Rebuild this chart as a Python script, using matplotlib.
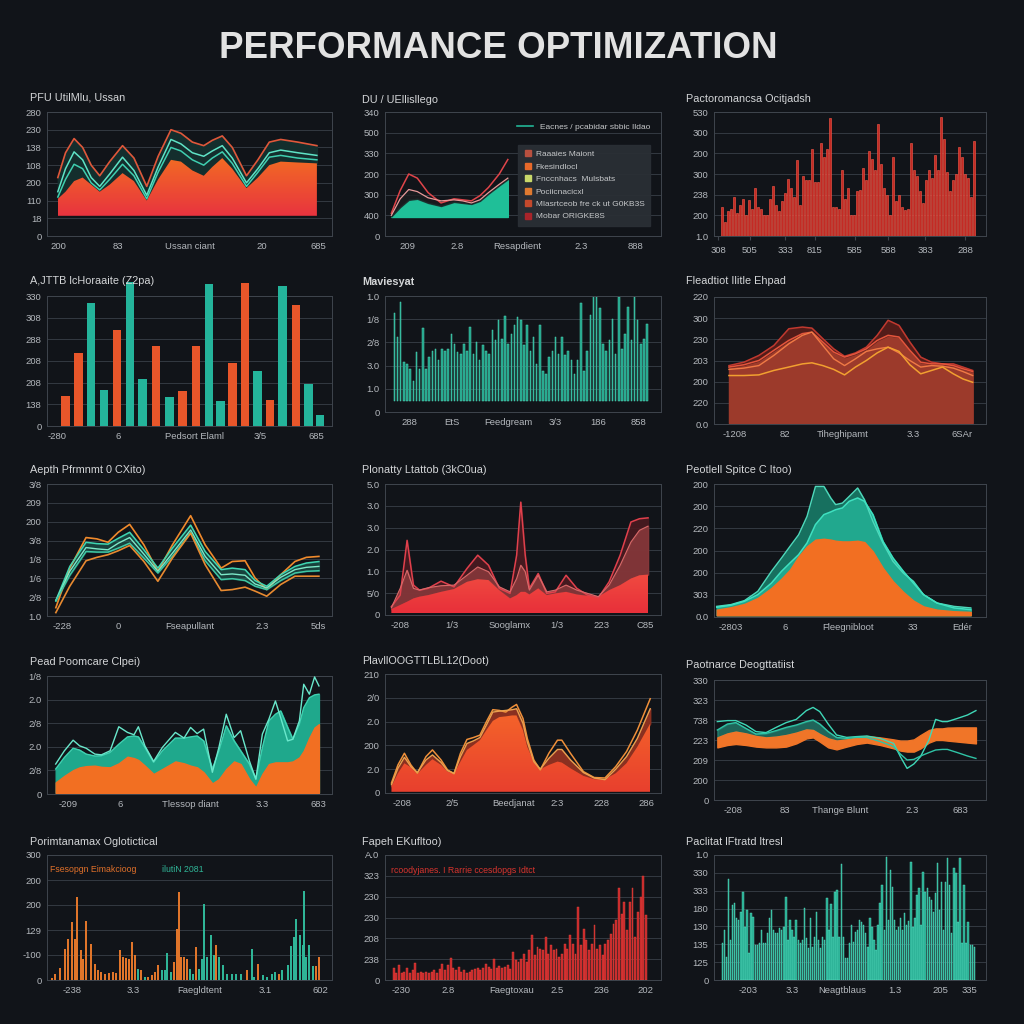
import numpy as np
import matplotlib
matplotlib.use('Agg')
import matplotlib.pyplot as plt
from matplotlib.colors import LinearSegmentedColormap
from matplotlib.lines import Line2D

plt.rcParams['font.family'] = ['Liberation Sans', 'DejaVu Sans']

# --- colores ---
BG = '#111419'
GRID = '#343a42'
SPINE = '#3f454d'
TXT = '#b4b8bd'
TEAL = '#22b596'
TEAL_L = '#5fe3c6'
ORANGE = '#f06c26'
RED = '#e0392f'

W = H = 1024

# ---------------- datos ----------------
# Fila 1, col 1 (áreas onduladas)
p11_x = [3.8, 6.5, 9.5, 12.5, 15.5, 18.5, 22, 26.5, 30.5, 35, 39, 43.5, 47, 51, 55, 58, 61.5, 65, 70, 74, 78, 82, 88, 94.7]
p11_orange = [2.1, 2.5, 3.1, 3.3, 2.9, 2.5, 2.9, 3.55, 3.1, 2.0, 3.2, 4.3, 4.2, 3.7, 3.4, 3.9, 4.4, 3.8, 2.7, 3.3, 4.0, 4.2, 4.15, 4.1]
p11_red = [3.3, 4.7, 5.5, 5.0, 4.0, 3.4, 4.2, 5.1, 4.4, 2.8, 4.5, 6.0, 5.8, 5.3, 5.1, 5.4, 5.65, 5.0, 3.4, 4.3, 5.3, 5.45, 5.3, 5.1]
p11_teal1 = [2.5, 3.8, 4.75, 4.3, 3.3, 2.8, 3.5, 4.45, 3.7, 2.3, 3.9, 5.45, 5.2, 4.7, 4.5, 4.8, 5.1, 4.4, 3.0, 3.8, 4.7, 4.85, 4.7, 4.55]
p11_teal2 = [2.2, 3.2, 4.05, 3.8, 3.0, 2.6, 3.2, 4.05, 3.4, 2.1, 3.6, 5.0, 4.8, 4.3, 4.0, 4.4, 4.75, 4.1, 2.8, 3.6, 4.45, 4.55, 4.4, 4.3]
p11_base = 1.14
p11_yt = ['0', '18', '110', '200', '108', '138', '230', '280']
p11_xt = [3.9, 24.9, 50.2, 75.4, 95.1]
p11_xl = ['200', '83', 'Ussan ciant', '20', '685']

# Fila 1, col 2 (área + leyenda)
p12_x = [2.3, 5.5, 8.6, 11.7, 15.6, 20.3, 25, 28.1, 31.3, 34.4, 37.5, 41.4, 44.5]
p12_teal = [0.95, 1.4, 1.75, 1.8, 1.6, 1.45, 1.65, 1.6, 1.55, 1.7, 2.05, 2.45, 2.75]
p12_red = [1.1, 2.2, 3.0, 2.8, 2.1, 1.6, 1.8, 1.75, 1.7, 1.95, 2.35, 3.0, 3.7]
p12_pink = [1.0, 1.8, 2.25, 2.15, 1.85, 1.7, 1.75, 1.7, 1.6, 1.75, 2.1, 2.5, 2.8]
p12_base = 0.92
p12_leg_labels = ['Raaaies Maiont', 'Fkesindlocl', 'Fnccnhacs  Mulsbats', 'Pociicnacicxl',
                  'Mlasrtceob fre ck ut G0KB3S', 'Mobar ORIGKE8S']
p12_leg_colors = ['#b8503f', '#e8692a', '#c9d86a', '#e07a30', '#c4492c', '#a8242a']
p12_yt = ['0', '400', '300', '200', '330', '500', '340']
p12_xt = [8.3, 26.1, 47.8, 71.0, 90.9]
p12_xl = ['209', '2.8', 'Resapdient', '2.3', '888']

# Fila 1, col 3 (barras rojas)
p13_h = [1.4, 0.7, 1.2, 1.3, 1.9, 1.1, 1.5, 1.8, 1.0, 1.75, 1.3, 2.3, 1.4, 1.3, 1.0, 1.0, 1.8, 2.4, 1.5, 1.2,
         1.7, 2.1, 2.75, 2.3, 1.9, 3.7, 1.5, 2.9, 2.7, 2.7, 4.2, 2.6, 2.6, 4.5, 3.8, 4.2, 5.7, 1.4, 1.4, 1.3,
         3.2, 1.8, 2.3, 1.0, 1.0, 2.2, 2.25, 3.3, 2.7, 4.1, 3.75, 3.2, 5.4, 3.5, 2.3, 2.0, 1.0, 3.8, 1.7, 2.0,
         1.4, 1.25, 1.3, 4.5, 3.2, 2.9, 2.2, 1.6, 2.7, 3.2, 2.8, 3.9, 3.2, 5.75, 4.7, 3.1, 2.2, 2.7, 3.0, 4.3,
         3.8, 3.0, 2.8, 1.9, 4.6]
p13_yt = ['1.0', '200', '238', '300', '200', '300', '530']
p13_xt = [1.5, 13.2, 26.1, 37.1, 51.8, 64.0, 77.6, 92.3]
p13_xl = ['308', '505', '333', '815', '585', '588', '383', '288']

# Fila 2, col 1 (barras naranja / verde)
p21_x = [6.5, 11.1, 15.5, 20.0, 24.5, 29.1, 33.6, 38.3, 43.0, 47.6, 52.3, 56.8, 60.8, 65.0, 69.4, 73.8, 78.3, 82.7, 87.4, 91.8, 95.8]
p21_h = [1.38, 3.36, 5.7, 1.67, 4.45, 6.64, 2.19, 3.7, 1.33, 1.61, 3.7, 6.56, 1.17, 2.89, 6.6, 2.53, 1.2, 6.48, 5.58, 1.92, 0.52]
p21_kind = ['o', 'o', 't', 't', 'o', 't', 't', 'o', 't', 'o', 'o', 't', 't', 'o', 'o', 't', 'o', 't', 'o', 't', 't']
p21_yt = ['0', '138', '208', '208', '288', '308', '330']
p21_xt = [3.5, 24.9, 51.6, 74.7, 94.4]
p21_xl = ['-280', '6', 'Pedsort Elaml', '3/5', '685']

# Fila 2, col 2 (barras verdes finas)
p22_h = [3.77, 2.75, 4.28, 1.67, 1.59, 1.38, 0.87, 2.1, 1.38, 3.12, 1.38, 1.88, 2.17, 2.25, 1.74, 2.25, 2.17, 2.25,
         2.9, 2.46, 2.1, 2.03, 2.46, 2.17, 3.19, 2.03, 2.54, 1.74, 2.39, 2.17, 2.03, 3.04, 2.61, 3.48, 2.68, 3.65,
         2.46, 2.9, 3.26, 3.62, 3.48, 2.39, 3.26, 2.17, 2.75, 1.59, 3.26, 1.3, 1.16, 1.88, 2.17, 2.75, 2.03, 2.75,
         1.96, 2.17, 1.74, 1.16, 1.74, 4.2, 1.3, 2.17, 3.7, 5.0, 4.49, 3.99, 2.46, 2.17, 2.61, 3.55, 2.03, 4.49,
         2.25, 2.9, 4.06, 2.61, 4.49, 3.48, 2.46, 2.68, 3.33]
p22_base = 0.48
p22_yt = ['0', '1.0', '3.0', '2/8', '1/8', '1.0']
p22_xt = [8.7, 24.3, 44.6, 61.6, 77.2, 91.7]
p22_xl = ['288', 'EtS', 'Feedgream', '3/3', '186', '858']

# Fila 2, col 3 (áreas rojas)
p23_x = [5.5, 11, 16.5, 22, 27.5, 32.5, 36, 40, 44, 48, 52, 56, 60, 64, 68, 72, 76, 80, 84, 88, 91.5, 95.1]
p23_a = [2.76, 2.92, 3.24, 3.71, 4.5, 4.58, 4.53, 4.03, 3.55, 3.2, 3.36, 3.63, 4.19, 4.9, 4.66, 3.87, 3.16, 2.92, 2.84, 2.84, 2.69, 2.53]
p23_b = [2.69, 2.8, 3.0, 3.48, 3.95, 4.27, 4.34, 3.87, 3.4, 3.16, 3.32, 3.55, 3.95, 4.19, 4.11, 3.48, 2.92, 2.84, 2.84, 2.76, 2.61, 2.48]
p23_c = [2.58, 2.64, 2.76, 3.24, 3.79, 4.19, 4.34, 3.71, 3.08, 2.76, 3.08, 3.43, 3.55, 3.63, 3.36, 3.0, 2.69, 2.76, 2.73, 2.64, 2.48, 2.29]
p23_d = [2.29, 2.29, 2.32, 2.53, 2.69, 2.84, 2.89, 2.76, 2.58, 2.32, 2.69, 3.0, 3.36, 3.63, 3.43, 2.8, 2.37, 2.53, 2.69, 2.37, 2.13, 1.97]
p23_yt = ['0.0', '220', '200', '203', '230', '300', '220']
p23_xt = [7.7, 26.1, 47.4, 73.2, 91.2]
p23_xl = ['-1208', '82', 'Tiheghipamt', '3.3', '6SAr']

# Fila 3, col 1 (líneas)
p31_x = [3.1, 8, 13.7, 17.5, 21.4, 25, 29, 34, 38.9, 44, 50.4, 55.5, 61.1, 65, 69.5, 73, 77.1, 82, 87, 91, 95.4]
p31_otop = [0.44, 2.54, 4.16, 4.09, 3.91, 4.44, 4.86, 3.77, 2.37, 3.77, 5.32, 3.77, 2.54, 2.89, 2.93, 2.02, 1.4, 2.19, 2.89, 3.11, 3.16]
p31_t1 = [0.82, 2.63, 3.91, 3.84, 3.81, 4.12, 4.44, 3.51, 2.54, 3.6, 4.82, 3.42, 2.46, 2.54, 2.46, 1.88, 1.58, 2.19, 2.63, 2.81, 2.89]
p31_t2 = [0.82, 2.37, 3.63, 3.56, 3.51, 3.86, 4.16, 3.28, 2.37, 3.33, 4.56, 3.16, 2.19, 2.23, 2.16, 1.7, 1.49, 2.05, 2.46, 2.58, 2.63]
p31_t3 = [0.79, 2.16, 3.42, 3.39, 3.39, 3.6, 3.86, 3.07, 2.28, 3.16, 4.44, 2.93, 1.93, 1.98, 1.88, 1.58, 1.4, 1.88, 2.28, 2.37, 2.4]
p31_obot = [0.18, 1.58, 2.93, 3.11, 3.25, 3.46, 3.74, 2.89, 1.84, 3.07, 4.39, 2.72, 1.35, 1.4, 1.53, 1.32, 1.05, 1.67, 2.11, 2.11, 2.11]
p31_yt = ['1.0', '2/8', '1/6', '1/8', '3/8', '200', '209', '3/8']
p31_xt = [5.3, 24.9, 50.2, 75.4, 95.1]
p31_xl = ['-228', '0', 'Fseapullant', '2.3', '5ds']

# Fila 3, col 2 (picos rojos)
p32_x = [2.3, 5.5, 8, 10.3, 12.5, 15.6, 20.3, 25, 29.7, 33.6, 37.5, 41.4, 45.3, 47.7, 49.2, 50.8, 52.3, 55.5,
         58.6, 61.7, 65.6, 69.5, 73.4, 77.3, 81.2, 85.2, 89.1, 92.2, 95.3]
p32_spike = [0.38, 0.91, 3.42, 1.37, 1.14, 1.22, 1.55, 1.29, 2.13, 2.74, 2.28, 1.22, 0.99, 2.74, 5.17, 2.74, 1.22, 1.9,
             0.99, 1.06, 1.82, 1.22, 0.91, 0.79, 1.52, 2.74, 4.26, 4.41, 4.45]
p32_mid = [0.33, 1.22, 2.05, 1.22, 1.14, 1.25, 1.34, 1.37, 1.82, 2.2, 1.98, 1.29, 1.06, 1.67, 2.28, 1.98, 1.14, 1.82,
           1.06, 1.14, 1.37, 1.14, 0.99, 0.84, 1.37, 2.28, 3.34, 3.88, 4.07]
p32_low = [0.27, 0.46, 0.61, 0.76, 0.84, 0.91, 1.06, 1.19, 1.52, 1.64, 1.6, 1.14, 0.76, 0.91, 1.06, 1.06, 0.94, 1.22,
           0.91, 0.99, 1.06, 0.94, 0.88, 0.84, 1.14, 1.37, 1.67, 1.82, 1.85]
p32_base = 0.08
p32_yt = ['0', '5/0', '1.0', '2.0', '3.0', '3.0', '5.0']
p32_xt = [5.4, 24.3, 45.3, 62.3, 78.3, 94.2]
p32_xl = ['-208', '1/3', 'Sooglamx', '1/3', '223', 'C85']

# Fila 3, col 3 (campana)
p33_x = [1.0, 6.2, 11.2, 16.1, 21.1, 24.8, 27.95, 31.1, 34.2, 37.3, 40.4, 42.9, 44.7, 47.2, 49.7, 52.8, 55.3,
         58.4, 62.1, 65.8, 69.6, 73.3, 77.0, 82.0, 88.2, 94.4]
p33_dark = [0.48, 0.56, 0.74, 1.16, 2.06, 2.66, 3.19, 3.71, 4.54, 5.89, 5.89, 5.37, 5.07, 5.14, 5.44, 5.82, 5.29,
            4.32, 3.34, 2.51, 1.98, 1.61, 1.01, 0.63, 0.48, 0.41]
p33_light = [0.44, 0.53, 0.71, 1.01, 1.53, 2.06, 2.44, 2.81, 3.34, 4.17, 4.62, 4.74, 4.84, 4.92, 5.22, 5.37, 5.22,
             4.62, 3.41, 2.66, 2.06, 1.53, 1.01, 0.63, 0.41, 0.33]
p33_orange = [0.33, 0.44, 0.59, 0.86, 1.31, 1.73, 2.14, 2.74, 3.19, 3.49, 3.53, 3.49, 3.44, 3.41, 3.41, 3.44, 3.38,
              2.96, 2.21, 1.61, 1.13, 0.74, 0.48, 0.33, 0.26, 0.23]
p33_base = 0.08
p33_yt = ['0.0', '303', '200', '200', '220', '200', '200']
p33_xt = [6.3, 26.1, 49.3, 73.2, 91.2]
p33_xl = ['-2803', '6', 'Fleegnibloot', '33', 'Edér']

# Fila 4, col 1
p41_x = [3.05, 6.1, 9.16, 11.45, 13.74, 16.79, 19.08, 22.14, 25.19, 28.24, 30.53, 32.06, 34.35, 37.4, 40.46, 45.04,
         48.09, 50.38, 52.67, 54.96, 58.02, 60.31, 62.9, 65.65, 67.94, 70.99, 73.28, 75.57, 77.86, 80.15, 81.98,
         84.43, 86.26, 88.55, 90.08, 92.06, 93.89, 95.42]
p41_orange = [0.49, 0.77, 1.01, 1.13, 1.18, 1.2, 1.15, 1.13, 1.3, 1.58, 1.52, 1.44, 1.2, 0.85, 1.06, 1.38, 1.3, 1.2,
              1.13, 0.92, 0.45, 0.63, 1.06, 1.38, 1.27, 0.63, 0.28, 0.85, 1.27, 1.34, 1.34, 1.34, 1.38, 1.55, 1.83,
              2.39, 2.82, 2.96]
p41_teal = [1.06, 1.55, 1.94, 1.86, 1.69, 1.61, 1.62, 1.76, 2.11, 2.42, 2.46, 2.42, 1.97, 1.34, 1.83, 2.37, 2.37,
            2.42, 2.46, 2.25, 1.06, 1.83, 2.89, 2.25, 1.83, 1.27, 0.63, 1.97, 3.1, 3.38, 3.52, 2.82, 2.32, 2.96, 3.66,
            4.08, 4.2, 4.23]
p41_line = [1.27, 1.83, 2.28, 2.04, 1.94, 1.69, 1.66, 1.83, 2.85, 2.61, 2.51, 2.85, 2.04, 1.38, 1.97, 2.61, 2.37,
            2.82, 2.56, 2.75, 0.92, 1.97, 3.38, 2.39, 2.68, 1.41, 0.63, 2.54, 3.17, 3.94, 3.24, 2.25, 2.32, 3.1, 4.65,
            4.23, 4.96, 4.58]
p41_yt = ['0', '2/8', '2.0', '2/8', '2.0', '1/8']
p41_xt = [7.4, 25.6, 50.2, 75.4, 95.1]
p41_xl = ['-209', '6', 'Tlessop diant', '3.3', '683']

# Fila 4, col 2
p42_x = [2.34, 4.69, 7.03, 9.38, 11.72, 14.84, 17.19, 20.31, 22.66, 25, 27.34, 29.69, 32.03, 34.38, 36.72, 39.06,
         41.41, 43.75, 46.09, 47.66, 50, 51.56, 53.91, 56.25, 59.38, 62.5, 64.06, 67.19, 71.88, 75.78, 79.69,
         83.59, 87.5, 91.41, 96.09]
p42_fill = [0.28, 0.83, 1.25, 1.08, 0.81, 1.18, 1.42, 1.18, 0.9, 0.81, 1.32, 1.81, 2.01, 2.22, 2.64, 3.03, 3.19,
            3.22, 3.26, 3.26, 2.64, 1.94, 1.32, 1.0, 1.18, 1.32, 1.28, 1.04, 0.72, 0.58, 0.58, 0.83, 1.25, 1.94, 2.92]
p42_l1 = [0.42, 1.18, 1.67, 1.18, 0.83, 1.53, 1.81, 1.39, 0.97, 0.81, 1.67, 2.25, 2.33, 2.43, 2.99, 3.5, 3.47, 3.4,
          3.61, 3.72, 3.13, 2.29, 1.39, 0.97, 1.67, 2.22, 2.22, 1.67, 0.9, 0.65, 0.63, 1.11, 1.74, 2.64, 3.96]
p42_l2 = [0.35, 1.04, 1.5, 1.11, 0.86, 1.39, 1.6, 1.28, 0.94, 0.83, 1.53, 2.08, 2.19, 2.33, 2.85, 3.4, 3.44, 3.47,
          3.5, 3.54, 2.92, 2.15, 1.32, 1.0, 1.46, 1.83, 1.83, 1.39, 0.86, 0.63, 0.56, 1.0, 1.53, 2.29, 3.54]
p42_base = 0.05
p42_yt = ['0', '2.0', '200', '2.0', '2/0', '210']
p42_xt = [6.2, 24.3, 46.7, 62.3, 78.3, 94.6]
p42_xl = ['-208', '2/5', 'Beedjanat', '2:3', '228', '286']

# Fila 4, col 3 (bandas)
p43_x = [1.23, 4.94, 8.02, 11.73, 15.43, 19.14, 22.84, 26.54, 30.25, 33.95, 36.42, 38.89, 41.98, 45.06, 48.77,
         52.47, 56.17, 61.11, 66.05, 68.52, 70.99, 73.46, 75.93, 79.01, 81.48, 83.95, 85.8, 89.51, 93.21, 96.3]
p43_oup = [3.13, 3.33, 3.42, 3.33, 3.2, 3.13, 3.17, 3.25, 3.37, 3.53, 3.5, 3.3, 3.08, 2.97, 3.03, 3.13, 3.2, 3.13,
           3.03, 2.97, 2.97, 3.03, 3.25, 3.5, 3.58, 3.58, 3.62, 3.63, 3.63, 3.63]
p43_olow = [2.63, 2.75, 2.8, 2.75, 2.67, 2.63, 2.63, 2.67, 2.83, 3.08, 3.13, 2.92, 2.63, 2.53, 2.67, 2.8, 2.87, 2.75,
            2.58, 2.47, 2.42, 2.42, 2.58, 2.87, 3.0, 3.0, 2.97, 2.92, 2.87, 2.83]
p43_t1 = [3.92, 3.97, 3.97, 3.75, 3.42, 3.37, 3.63, 3.87, 4.03, 4.47, 4.63, 4.42, 3.8, 3.25, 3.13, 3.17, 3.2, 3.08,
          2.83, 2.17, 1.58, 1.8, 2.17, 3.0, 4.03, 3.92, 3.92, 4.08, 4.25, 4.47]
p43_t2 = [3.5, 3.8, 3.87, 3.58, 3.3, 3.33, 3.47, 3.63, 3.75, 3.92, 4.0, 3.8, 3.42, 3.13, 3.08, 3.13, 3.13, 2.92,
          2.67, 2.3, 2.0, 2.03, 2.2, 2.37, 2.5, 2.53, 2.53, 2.37, 2.2, 2.08]
p43_yt = ['0', '200', '209', '223', '738', '323', '330']
p43_xt = [7.0, 26.1, 46.3, 72.8, 90.4]
p43_xl = ['-208', '83', 'Thange Blunt', '2.3', '683']

# Fila 5, col 1 (barras finas naranja / verde)
p51_x = [1.6, 2.8, 4.7, 6.3, 7.5, 8.6, 9.7, 10.6, 11.9, 12.8, 13.8, 15.3, 16.9, 18.0, 19.1, 20.3, 21.9, 23.0, 24.2,
         25.5, 26.6, 27.7, 28.9, 29.7, 30.9, 32.0, 33.1, 34.4, 35.6, 36.7, 37.8, 39.1, 40.3, 41.4, 42.2, 43.4, 44.7,
         45.6, 46.3, 46.9, 48.1, 49.2, 50.3, 51.3, 52.3, 53.4, 54.4, 55.2, 56.3, 57.5, 58.6, 59.4, 60.5, 61.7, 63.3,
         64.8, 66.4, 68.0, 70.3, 71.9, 72.7, 74.2, 75.8, 77.3, 78.9, 80.0, 81.3, 82.5, 84.4, 85.6, 86.7, 87.5, 88.8,
         89.7, 90.3, 90.9, 91.9, 93.4, 94.5, 95.6]
p51_h = [0.07, 0.26, 0.49, 1.26, 1.65, 2.31, 1.65, 3.33, 1.19, 0.86, 2.38, 1.46, 0.66, 0.4, 0.33, 0.26, 0.29, 0.33,
         0.29, 1.19, 0.93, 0.9, 0.86, 1.52, 0.99, 0.46, 0.4, 0.13, 0.13, 0.2, 0.33, 0.6, 0.4, 0.4, 1.08, 0.33, 0.73,
         2.06, 3.51, 0.93, 0.93, 0.86, 0.46, 0.26, 1.32, 0.46, 0.86, 3.04, 0.93, 1.79, 0.99, 1.39, 0.93, 0.6, 0.24,
         0.24, 0.26, 0.26, 0.4, 1.26, 0.13, 0.66, 0.2, 0.13, 0.26, 0.33, 0.26, 0.4, 0.6, 1.35, 1.72, 2.45, 1.79,
         1.39, 3.57, 0.93, 1.39, 0.56, 0.56, 0.93]
p51_kind = ['o'] * 25 + ['t', 'o', 't', 'o', 'o', 'o', 'o', 't', 't', 't', 't', 'o', 'o', 'o', 'o', 'o', 'o',
            't', 't', 'o', 't', 't', 't', 't', 't', 't', 'o', 't', 't', 't', 't', 't', 't', 'o', 't', 't', 'o',
            't', 't', 't', 't', 'o', 't', 't', 't', 't', 't', 't', 't', 't', 't', 't', 't', 'o', 'o', 't']
p51_note = ('Fsesopgn Eimakcioog', 'ilutiN 2081')
p51_yt = ['0', '-100', '129', '200', '200', '300']
p51_xt = [8.8, 30.2, 53.7, 76.5, 95.8]
p51_xl = ['-238', '3.3', 'Faegldtent', '3.1', '602']

# Fila 5, col 2 (barras rojas crecientes)
p52_h = [0.56, 0.32, 0.71, 0.32, 0.4, 0.56, 0.32, 0.48, 0.83, 0.32, 0.4, 0.32, 0.4, 0.32, 0.4, 0.48, 0.32, 0.51,
         0.79, 0.48, 0.71, 1.08, 0.6, 0.48, 0.63, 0.4, 0.48, 0.32, 0.4, 0.48, 0.51, 0.56, 0.48, 0.6, 0.79, 0.63,
         0.51, 1.03, 0.6, 0.67, 0.56, 0.63, 0.71, 0.51, 1.35, 0.95, 0.87, 1.03, 1.27, 0.87, 1.43, 2.14, 1.19, 1.59,
         1.51, 1.43, 2.06, 1.27, 1.67, 1.43, 1.51, 1.11, 1.27, 1.75, 1.51, 2.14, 1.75, 1.27, 3.49, 1.67, 2.46, 1.9,
         1.43, 1.75, 2.62, 1.51, 1.67, 1.19, 1.75, 1.9, 2.22, 2.7, 2.86, 4.44, 3.17, 3.73, 2.38, 3.73, 4.44, 2.06,
         3.25, 3.97, 5.0, 3.1]
p52_note = 'rcoodyjanes. I Rarrie ccesdopgs Idtct'
p52_yt = ['0', '238', '208', '230', '230', '323', 'A.0']
p52_xt = [5.8, 22.8, 45.7, 62.3, 78.3, 94.2]
p52_xl = ['-230', '2.8', 'Faegtoxau', '2.5', '236', '202']

# Fila 5, col 3 (barras verdes)
p53_h = [2.05, 2.8, 1.31, 5.63, 2.24, 4.2, 4.29, 3.45, 3.36, 3.82, 4.94, 2.99, 3.92, 1.49, 3.73, 3.54, 1.96, 1.96,
         2.05, 2.8, 2.05, 2.05, 2.61, 3.45, 3.92, 2.8, 2.61, 2.61, 2.89, 2.8, 2.99, 4.66, 2.24, 3.36, 2.8, 2.43,
         3.36, 2.24, 2.05, 2.24, 4.01, 2.33, 1.77, 3.45, 1.87, 2.43, 3.82, 2.24, 1.77, 2.43, 2.24, 4.57, 2.8, 4.25,
         2.43, 4.94, 5.04, 2.43, 6.49, 2.43, 1.21, 1.21, 2.05, 3.08, 2.15, 2.71, 2.8, 3.36, 3.26, 3.08, 2.61, 1.87,
         3.45, 2.99, 2.24, 1.68, 3.08, 4.29, 5.32, 2.8, 6.9, 3.36, 6.16, 5.22, 3.36, 2.8, 2.99, 3.45, 2.8, 3.73,
         3.08, 3.32, 6.62, 2.99, 3.45, 4.76, 5.13, 3.08, 6.06, 4.94, 5.13, 4.66, 4.48, 3.82, 4.85, 6.53, 3.92, 5.5,
         2.8, 5.5, 6.81, 5.32, 2.61, 6.25, 5.97, 3.26, 6.81, 2.05, 5.32, 2.05, 3.26, 1.96, 1.96, 1.87]
p53_yt = ['0', '125', '135', '130', '180', '333', '330', '1.0']
p53_xt = [12.5, 28.7, 47.1, 66.5, 83.1, 94.1]
p53_xl = ['-203', '3.3', 'Neagtblaus', '1.3', '205', '335']

fig = plt.figure(figsize=(10.24, 10.24), dpi=100)
fig.patch.set_facecolor(BG)


def panel(box, title, title_px, yt, xt, xl, bold=False):
    left, top, right, bottom = box
    ax = fig.add_axes([left / W, 1 - bottom / H, (right - left) / W, (bottom - top) / H])
    ax.set_facecolor(BG)
    ax.set_xlim(0, 100)
    ax.set_ylim(0, len(yt) - 1)
    ax.set_yticks(range(len(yt)))
    ax.set_yticklabels(yt)
    ax.set_xticks(xt)
    ax.set_xticklabels(xl)
    ax.set_axisbelow(True)
    ax.grid(axis='y', color=GRID, linewidth=0.7)
    for s in ax.spines.values():
        s.set_color(SPINE)
        s.set_linewidth(0.7)
    ax.tick_params(colors=TXT, labelcolor=TXT, length=0, labelsize=6.8, pad=4)
    fig.text(title_px[0] / W, 1 - title_px[1] / H, title, color='#d4d6d8', fontsize=7.8,
             weight='bold' if bold else 'normal', va='center', ha='left')
    return ax


def grad_fill(ax, x, y, base, c_bot, c_top, z=2):
    x = np.asarray(x)
    y = np.asarray(y)
    poly = ax.fill_between(x, base, y, facecolor='none', edgecolor='none')
    cmap = LinearSegmentedColormap.from_list('g', [c_bot, c_top])
    g = np.linspace(0, 1, 64).reshape(-1, 1)
    im = ax.imshow(g, extent=[x.min(), x.max(), base, y.max()], origin='lower', aspect='auto',
                   cmap=cmap, zorder=z)
    im.set_clip_path(poly.get_paths()[0], transform=ax.transData)


def even_x(n, a, b):
    return np.linspace(a, b, n)


# título general
fig.text(0.487, 1 - 48 / H, 'PERFORMANCE OPTIMIZATION', ha='center', va='center',
         fontsize=26.5, weight='bold', color='#e2e2e2')

C1 = (47, 332)
C2 = (385, 661)
C3 = (714, 986)

# ---- fila 1 ----
ax = panel((C1[0], 112, C1[1], 236), 'PFU UtilMlu, Ussan', (30, 97), p11_yt, p11_xt, p11_xl)
ax.fill_between(p11_x, p11_orange, p11_red, color='#142e2d', zorder=1.5)
grad_fill(ax, p11_x, p11_orange, p11_base, '#e8343f', '#f26a24')
ax.plot(p11_x, p11_red, color='#e0573a', lw=1.2, zorder=4)
ax.plot(p11_x, p11_teal1, color=TEAL_L, lw=1.1, zorder=4)
ax.plot(p11_x, p11_teal2, color='#3fcfb0', lw=1.1, zorder=4)
ax.set_xlim(0, 100); ax.set_ylim(0, len(p11_yt) - 1)

ax = panel((C2[0], 112, C2[1], 236), 'DU / UEllisllego', (362, 100), p12_yt, p12_xt, p12_xl)
ax.fill_between(p12_x, p12_base, p12_teal, color='#1fbf98', zorder=2)
ax.fill_between(p12_x, p12_teal, p12_pink, color='#1b1d20', alpha=0.8, zorder=2)
ax.plot(p12_x, p12_red, color='#e0454a', lw=1.1, zorder=3)
ax.plot(p12_x, p12_pink, color='#e89a9a', lw=0.9, zorder=3)
hs = [Line2D([], [], marker='s', ls='none', color=c, markersize=4) for c in p12_leg_colors]
leg = ax.legend(hs, p12_leg_labels, loc='upper left', bbox_to_anchor=(0.465, 0.77), fontsize=6,
                frameon=True, fancybox=False, facecolor='#2a2f35', edgecolor='#2a2f35', framealpha=0.95,
                labelcolor='#c6c8ca', handlelength=1.0, handletextpad=0.5, borderpad=0.7, labelspacing=0.55)
ax.add_artist(leg)
ax.legend([Line2D([], [], color=TEAL, lw=1.2)], ['Eacnes / pcabidar sbbic Ildao'], loc='center left',
          bbox_to_anchor=(0.45, 0.88), fontsize=6, frameon=False, labelcolor='#c6c8ca', handlelength=2.0)

ax = panel((C3[0], 112, C3[1], 236), 'Pactoromancsa Ocitjadsh', (686, 99), p13_yt, p13_xt, p13_xl)
xs = even_x(len(p13_h), 3.1, 95.7)
ax.bar(xs, p13_h, width=0.75, color='#c42a24', edgecolor='#ff5c4a', linewidth=0.4, zorder=2)
ax.tick_params(axis='x', length=3, color=SPINE)

# ---- fila 2 ----
ax = panel((C1[0], 296, C1[1], 426), 'A,JTTB lcHoraaite (Z2pa)', (30, 281), p21_yt, p21_xt, p21_xl)
cols = ['#e8562a' if k == 'o' else '#24b49b' for k in p21_kind]
ax.bar(p21_x, p21_h, width=3.0, color=cols, zorder=3, clip_on=False)

ax = panel((C2[0], 296, C2[1], 412), 'Maviesyat', (362, 282), p22_yt, p22_xt, p22_xl, bold=True)
xs = even_x(len(p22_h), 3.4, 95.0)
ax.bar(xs, p22_h, width=0.55, bottom=p22_base, color='#1f9c84', edgecolor='#4fdcbc', linewidth=0.35, zorder=2)

ax = panel((C3[0], 297, C3[1], 424), 'Fleadtiot Ilitle Ehpad', (686, 281), p23_yt, p23_xt, p23_xl)
ax.fill_between(p23_x, 0.05, p23_b, color='#9c3a2b', zorder=2)
ax.fill_between(p23_x, p23_b, p23_a, color='#5a1d1a', alpha=0.9, zorder=2)
ax.plot(p23_x, p23_a, color='#c0392f', lw=1.1, zorder=3)
ax.plot(p23_x, p23_b, color='#e4553c', lw=1.1, zorder=3)
ax.plot(p23_x, p23_c, color='#f07a45', lw=1.0, zorder=3)
ax.plot(p23_x, p23_d, color='#f2a030', lw=1.1, zorder=3)

# ---- fila 3 ----
ax = panel((C1[0], 484, C1[1], 616), 'Aepth Pfrmnmt 0 CXito)', (30, 470), p31_yt, p31_xt, p31_xl)
ax.fill_between(p31_x, p31_t3, p31_t1, color='#1d6f60', alpha=0.5, zorder=2)
ax.plot(p31_x, p31_otop, color='#f08a2c', lw=1.2, zorder=3)
ax.plot(p31_x, p31_t1, color='#3fd6b2', lw=1.1, zorder=3)
ax.plot(p31_x, p31_t2, color='#7de8c8', lw=1.0, zorder=3)
ax.plot(p31_x, p31_t3, color='#3fc7a4', lw=1.1, zorder=3)
ax.plot(p31_x, p31_obot, color='#e88a30', lw=1.2, zorder=3)

ax = panel((C2[0], 484, C2[1], 615), 'Plonatty Ltattob (3kC0ua)', (362, 470), p32_yt, p32_xt, p32_xl)
ax.fill_between(p32_x, p32_low, p32_spike, color='#4a1a20', alpha=0.9, zorder=2)
ax.fill_between(p32_x, p32_low, p32_mid, color='#8a3a3c', alpha=0.85, zorder=2)
grad_fill(ax, p32_x, p32_low, p32_base, '#e8303a', '#f04a40', z=2.5)
ax.plot(p32_x, p32_spike, color='#e0404c', lw=1.1, zorder=3)
ax.plot(p32_x, p32_mid, color='#d86a6a', lw=0.8, zorder=3)
ax.set_xlim(0, 100); ax.set_ylim(0, len(p32_yt) - 1)

ax = panel((C3[0], 484, C3[1], 617), 'Peotlell Spitce C Itoo)', (686, 470), p33_yt, p33_xt, p33_xl)
ax.fill_between(p33_x, p33_base, p33_dark, color='#17705f', zorder=2)
ax.fill_between(p33_x, p33_base, p33_light, color='#21a88e', zorder=2)
ax.fill_between(p33_x, p33_base, p33_orange, color='#f26f22', zorder=2)
ax.plot(p33_x, p33_dark, color='#4fd8bb', lw=1.0, zorder=3)
ax.plot(p33_x, p33_light, color='#3fe0c0', lw=1.1, zorder=3)

# ---- fila 4 ----
ax = panel((C1[0], 676, C1[1], 794), 'Pead Poomcare Clpei)', (30, 662), p41_yt, p41_xt, p41_xl)
ax.fill_between(p41_x, 0.05, p41_teal, color='#1fa88c', zorder=2)
ax.fill_between(p41_x, 0.05, p41_orange, color='#f26f22', zorder=2)
ax.plot(p41_x, p41_teal, color='#3fd0b0', lw=1.0, zorder=3)
ax.plot(p41_x, p41_line, color='#6ae8cc', lw=1.0, zorder=3)

ax = panel((C2[0], 674, C2[1], 793), 'PlavllOOGTTLBL12(Doot)', (362, 661), p42_yt, p42_xt, p42_xl)
ax.fill_between(p42_x, p42_fill, p42_l2, color='#8a3020', zorder=2)
grad_fill(ax, p42_x, p42_fill, p42_base, '#e8402e', '#f4622a')
ax.plot(p42_x, p42_l1, color='#f0903a', lw=1.1, zorder=3)
ax.plot(p42_x, p42_l2, color='#e8a050', lw=1.0, zorder=3)
ax.set_xlim(0, 100); ax.set_ylim(0, len(p42_yt) - 1)

ax = panel((C3[0], 680, C3[1], 800), 'Paotnarce Deogttatiist', (686, 665), p43_yt, p43_xt, p43_xl)
ax.fill_between(p43_x, p43_oup, p43_t2, where=np.array(p43_t2) > np.array(p43_oup), interpolate=True,
                color='#2a9c86', alpha=0.6, zorder=2)
ax.fill_between(p43_x, p43_olow, p43_oup, color='#f07528', zorder=2.5)
ax.plot(p43_x, p43_t1, color='#3fd8b8', lw=1.0, zorder=3)
ax.plot(p43_x, p43_t2, color='#2fc4a6', lw=1.0, zorder=3)

# ---- fila 5 ----
ax = panel((C1[0], 855, C1[1], 980), 'Porimtanamax Oglotictical', (30, 842), p51_yt, p51_xt, p51_xl)
cols = ['#e0752a' if k == 'o' else '#2fb597' for k in p51_kind]
ax.bar(p51_x, p51_h, width=0.7, color=cols, zorder=2)
ax.text(1.0, 4.43, p51_note[0], color='#e0702a', fontsize=6.3, va='center', zorder=4)
ax.text(40.5, 4.43, p51_note[1], color='#2fb597', fontsize=6.3, va='center', zorder=4)

ax = panel((C2[0], 855, C2[1], 980), 'Fapeh EKufltoo)', (362, 842), p52_yt, p52_xt, p52_xl)
xs = even_x(len(p52_h), 3.1, 94.6)
ax.bar(xs, p52_h, width=0.7, color='#c4282a', edgecolor='#e8483e', linewidth=0.3, zorder=2)
ax.text(2.3, 5.24, p52_note, color='#d8342e', fontsize=6.3, va='center', zorder=4)

ax = panel((C3[0], 855, C3[1], 980), 'Paclitat lFtratd ltresl', (686, 842), p53_yt, p53_xt, p53_xl)
xs = even_x(len(p53_h), 3.1, 95.7)
ax.bar(xs, p53_h, width=0.5, color='#23a88d', edgecolor='#5ee6c8', linewidth=0.3, zorder=2)

fig.savefig('out.png', dpi=100, facecolor=BG)
